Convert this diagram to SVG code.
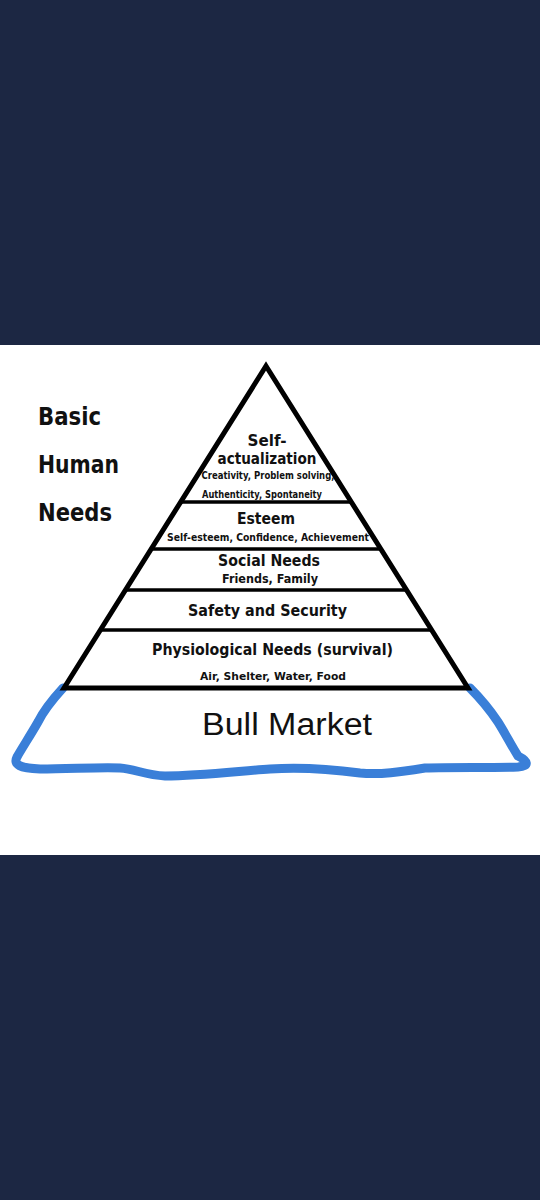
<svg xmlns="http://www.w3.org/2000/svg" width="540" height="1200" viewBox="0 0 540 1200">
<style>
.t{font-family:"DejaVu Sans",sans-serif;font-weight:bold;fill:#111;text-anchor:middle}
.s{font-family:"DejaVu Sans",sans-serif;font-weight:bold;fill:#111;text-anchor:middle}
.side{font-family:"DejaVu Sans",sans-serif;font-weight:bold;fill:#111;font-size:24px}
.lvl{stroke:#000;stroke-width:3.5}
</style>
<rect x="0" y="0" width="540" height="1200" fill="#1c2743"/>
<rect x="0" y="345" width="540" height="510" fill="#ffffff"/>
<g id="label">
<text class="side" x="38" y="425" textLength="63" lengthAdjust="spacingAndGlyphs">Basic</text>
<text class="side" x="38" y="473" textLength="81" lengthAdjust="spacingAndGlyphs">Human</text>
<text class="side" x="38" y="521" textLength="74" lengthAdjust="spacingAndGlyphs">Needs</text>
</g>
<g id="base">
<path d="M63,688 C52,700 44,710 38,722 C30,736 22,748 17,757 C13,765 20,768 40,769 C70,769 100,767 120,768 C135,769 145,775 165,776 C200,776 240,771 270,769 C300,767 330,769 360,773 C380,775 400,772 425,768 C455,767 490,768 518,767 C530,766 528,761 518,756 C511,745 505,733 498,722 C490,710 480,698 470,688" fill="none" stroke="#3a7fd8" stroke-width="9" stroke-linecap="round" stroke-linejoin="round"/>
<text x="287" y="735" font-family="Liberation Sans, Arial, sans-serif" font-size="31" fill="#111" text-anchor="middle" textLength="170" lengthAdjust="spacingAndGlyphs">Bull Market</text>
</g>
<g id="pyramid">
<polygon points="266,366 468,688 64,688" fill="#fff" stroke="#000" stroke-width="5" stroke-linejoin="miter"/>
</g>
<g id="connectors">
<line class="lvl" x1="181" y1="502" x2="351" y2="502"/>
<line class="lvl" x1="151" y1="549" x2="381" y2="549"/>
<line class="lvl" x1="125" y1="590" x2="407" y2="590"/>
<line class="lvl" x1="100" y1="630" x2="432" y2="630"/>
</g>
<g id="self-actualization">
<text class="t" x="267" y="446" font-size="16" textLength="39" lengthAdjust="spacingAndGlyphs">Self-</text>
<text class="t" x="267" y="464" font-size="16" textLength="99" lengthAdjust="spacingAndGlyphs">actualization</text>
<text class="s" x="268" y="479" font-size="10.5" textLength="133" lengthAdjust="spacingAndGlyphs">Creativity, Problem solving,</text>
<text class="s" x="262" y="498" font-size="10.5" textLength="120" lengthAdjust="spacingAndGlyphs">Authenticity, Spontaneity</text>
</g>
<g id="esteem">
<text class="t" x="266" y="524" font-size="16" textLength="58" lengthAdjust="spacingAndGlyphs">Esteem</text>
<text class="s" x="268" y="541" font-size="10.5" textLength="202" lengthAdjust="spacingAndGlyphs">Self-esteem, Confidence, Achievement</text>
</g>
<g id="social">
<text class="t" x="269" y="566" font-size="16" textLength="102" lengthAdjust="spacingAndGlyphs">Social Needs</text>
<text class="s" x="270" y="583" font-size="12" textLength="96" lengthAdjust="spacingAndGlyphs">Friends, Family</text>
</g>
<g id="safety">
<text class="t" x="267.5" y="616" font-size="16" textLength="159" lengthAdjust="spacingAndGlyphs">Safety and Security</text>
</g>
<g id="physiological">
<text class="t" x="272.5" y="655" font-size="16" textLength="241" lengthAdjust="spacingAndGlyphs">Physiological Needs (survival)</text>
<text class="s" x="273" y="680" font-size="11" textLength="146" lengthAdjust="spacingAndGlyphs">Air, Shelter, Water, Food</text>
</g>
</svg>
